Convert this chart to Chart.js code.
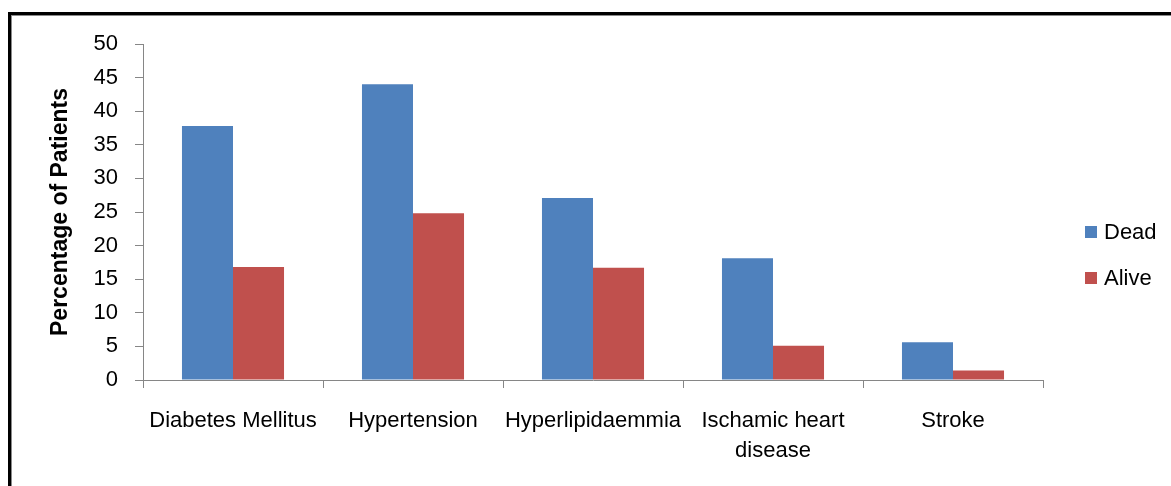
<!DOCTYPE html>
<html>
<head>
<meta charset="utf-8">
<script src="https://cdn.jsdelivr.net/npm/chart.js@4/dist/chart.umd.min.js"></script>
<style>
  html, body { margin: 0; padding: 0; background: #fff; overflow: hidden; }
  #frame { position: absolute; left: 8px; top: 12px; width: 1200px; height: 520px;
           border: 3px solid #000; box-shadow: inset 1px 1px 0 #8a8a8a; box-sizing: border-box; }
  #wrap { position: absolute; left: 0; top: 0; width: 1171px; height: 486px; }
</style>
</head>
<body>
<div id="frame"></div>
<div id="wrap"><canvas id="c" width="1171" height="486"></canvas></div>
<script>
const categories = ['Diabetes Mellitus', 'Hypertension', 'Hyperlipidaemmia', ['Ischamic heart', 'disease'], 'Stroke'];
const deadValues = [37.8, 44.0, 27.1, 18.1, 5.6];
const aliveValues = [16.8, 24.8, 16.7, 5.1, 1.4];
const seriesNames = ['Dead', 'Alive'];
const yTicks = [0, 5, 10, 15, 20, 25, 30, 35, 40, 45, 50];
const yTitle = 'Percentage of Patients';

const FONT = "'Liberation Sans', Arial, sans-serif";
const AXIS = '#868686';

const legendPlugin = {
  id: 'customLegend',
  afterDraw(chart) {
    const ctx = chart.ctx;
    ctx.save();
    ctx.font = "22px " + FONT;
    ctx.textBaseline = 'middle';
    ctx.textAlign = 'left';
    const ys = [232, 278];
    chart.data.datasets.forEach((ds, i) => {
      ctx.fillStyle = ds.backgroundColor;
      ctx.fillRect(1085, ys[i] - 6, 12, 12);
      ctx.fillStyle = '#000';
      ctx.fillText(ds.label, 1104, ys[i] + 1);
    });
    ctx.restore();
  }
};

new Chart(document.getElementById('c'), {
  type: 'bar',
  data: {
    labels: categories,
    datasets: [
      { label: seriesNames[0], data: deadValues, backgroundColor: '#4F81BD' },
      { label: seriesNames[1], data: aliveValues, backgroundColor: '#C0504D' }
    ]
  },
  options: {
    responsive: false,
    animation: false,
    layout: { padding: { top: 44, left: 0, right: 128, bottom: 0 } },
    plugins: { legend: { display: false }, tooltip: { enabled: false } },
    datasets: { bar: { categoryPercentage: 0.567, barPercentage: 1.0 } },
    scales: {
      x: {
        offset: true,
        grid: { offset: true, drawOnChartArea: false, drawTicks: true, tickLength: 8, color: AXIS },
        border: { color: AXIS, width: 1 },
        ticks: { color: '#000', font: { family: FONT, size: 22, lineHeight: 1.36 }, padding: 18, maxRotation: 0, autoSkip: false },
        afterFit(s) { s.height = 106; }
      },
      y: {
        min: 0, max: 50,
        afterBuildTicks(s) { s.ticks = yTicks.map(v => ({ value: v })); },
        grid: { drawOnChartArea: false, drawTicks: true, tickLength: 8, color: AXIS },
        border: { color: AXIS, width: 1 },
        ticks: { color: '#000', font: { family: FONT, size: 22 }, padding: 17 },
        title: { display: true, text: yTitle, color: '#000', font: { family: FONT, size: 23, weight: 'bold' }, padding: { top: 47, bottom: 0 } },
        afterFit(s) { s.width = 143; }
      }
    }
  },
  plugins: [legendPlugin]
});
</script>
</body>
</html>
